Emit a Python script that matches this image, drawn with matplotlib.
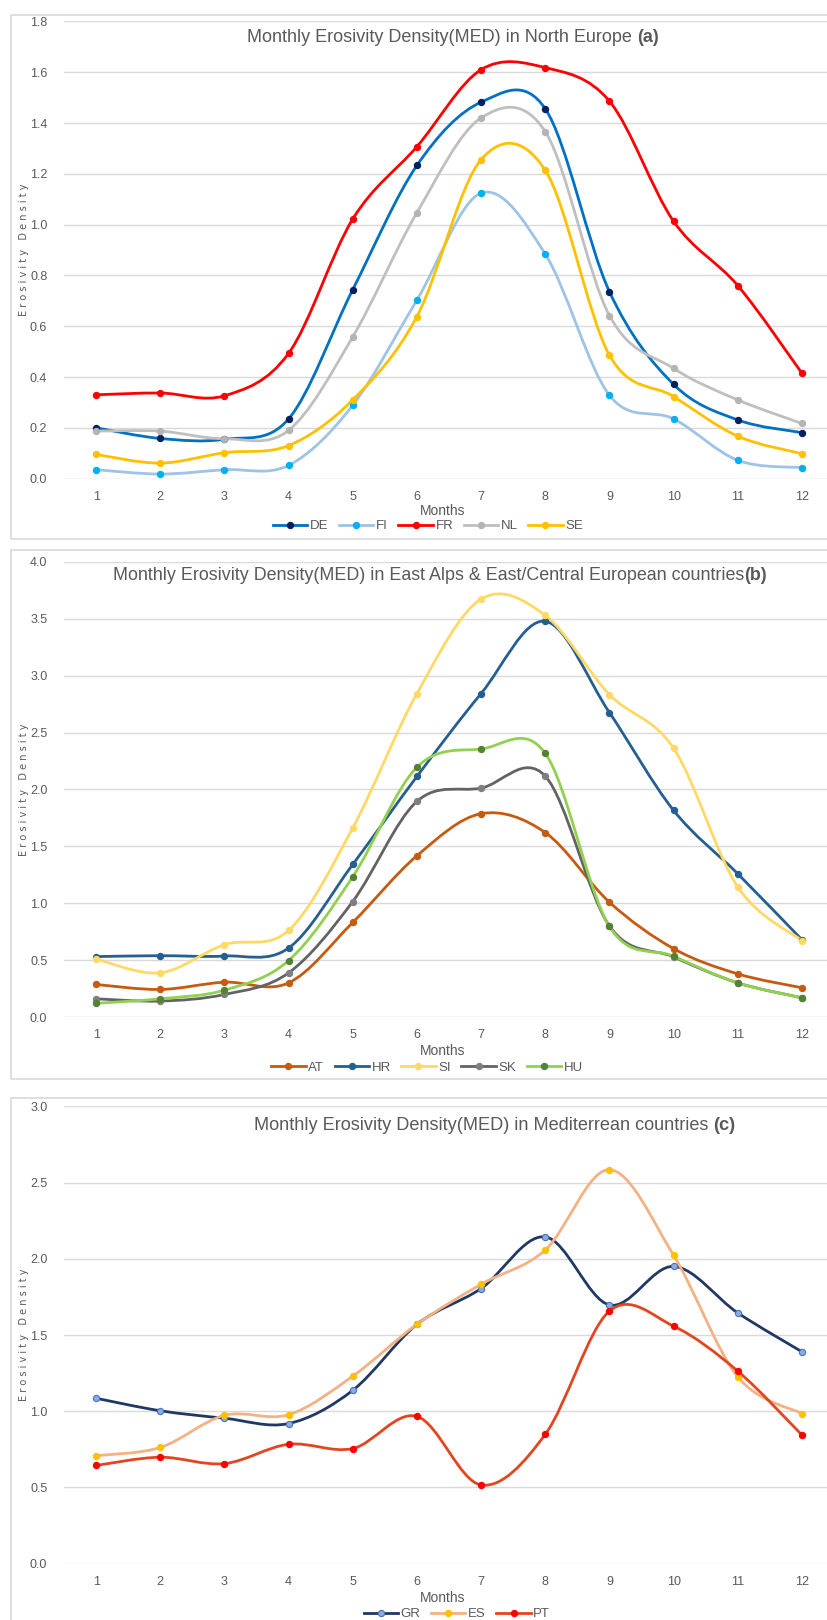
import numpy as np
import matplotlib
matplotlib.use("Agg")
import matplotlib.pyplot as plt
from matplotlib.path import Path
from matplotlib.patches import PathPatch, Rectangle
from matplotlib.lines import Line2D

plt.rcParams['font.family'] = ['Liberation Sans', 'DejaVu Sans']

W, H = 827, 1620
months = list(range(1, 13))

# panel (a) North Europe
names_a = ["DE", "FI", "FR", "NL", "SE"]
DE = [0.200, 0.158, 0.155, 0.235, 0.744, 1.233, 1.482, 1.456, 0.736, 0.371, 0.231, 0.181]
FI = [0.035, 0.018, 0.035, 0.052, 0.289, 0.703, 1.124, 0.884, 0.328, 0.235, 0.072, 0.043]
FR = [0.330, 0.337, 0.326, 0.493, 1.022, 1.307, 1.610, 1.618, 1.486, 1.013, 0.760, 0.415]
NL = [0.187, 0.187, 0.157, 0.190, 0.558, 1.047, 1.420, 1.366, 0.642, 0.434, 0.310, 0.217]
SE = [0.095, 0.061, 0.102, 0.130, 0.310, 0.638, 1.256, 1.214, 0.486, 0.323, 0.167, 0.098]

# panel (b) East Alps & East/Central Europe
names_b = ["AT", "HR", "SI", "SK", "HU"]
AT = [0.286, 0.242, 0.306, 0.300, 0.831, 1.417, 1.787, 1.621, 1.009, 0.601, 0.379, 0.257]
HR = [0.531, 0.539, 0.536, 0.606, 1.341, 2.114, 2.843, 3.478, 2.676, 1.816, 1.259, 0.679]
SI = [0.510, 0.388, 0.636, 0.761, 1.662, 2.843, 3.673, 3.530, 2.834, 2.362, 1.143, 0.671]
SK = [0.160, 0.140, 0.198, 0.388, 1.015, 1.895, 2.012, 2.117, 0.800, 0.528, 0.300, 0.169]
HU = [0.120, 0.160, 0.236, 0.496, 1.233, 2.195, 2.355, 2.318, 0.796, 0.534, 0.300, 0.169]

# panel (c) Mediterranean
names_c = ["GR", "ES", "PT"]
GR = [1.085, 1.003, 0.954, 0.919, 1.137, 1.570, 1.805, 2.144, 1.697, 1.950, 1.645, 1.390]
ES = [0.708, 0.762, 0.973, 0.977, 1.230, 1.570, 1.833, 2.058, 2.585, 2.023, 1.226, 0.984]
PT = [0.644, 0.698, 0.656, 0.783, 0.755, 0.966, 0.516, 0.848, 1.657, 1.558, 1.263, 0.844]

grey_txt = "#595959"
grid_c = "#D9D9D9"


def smooth(ax, x, y, color, lw):
    # excel-like smoothed line (catmull-rom as bezier segments)
    P = np.column_stack([x, y]).astype(float)
    n = len(P)
    verts = [P[0]]
    codes = [Path.MOVETO]
    for i in range(n - 1):
        a = P[i - 1] if i > 0 else P[i]
        d = P[i + 2] if i + 2 < n else P[i + 1]
        verts += [P[i] + (P[i + 1] - a) / 6, P[i + 1] - (d - P[i]) / 6, P[i + 1]]
        codes += [Path.CURVE4] * 3
    ax.add_patch(PathPatch(Path(verts, codes), fill=False, edgecolor=color,
                           lw=lw, capstyle='round', joinstyle='round'))


def fx(x):
    return x / W


def fy(y):
    return 1 - y / H


fig = plt.figure(figsize=(W / 100, H / 100), dpi=100)

# chart frames
for top, bot in [(15, 538.5), (550, 1079), (1097.5, 1640)]:
    fig.patches.append(Rectangle((fx(10.5), fy(bot)), fx(830), (bot - top) / H,
                                 transform=fig.transFigure, fill=False,
                                 edgecolor=grid_c, lw=1.2))

panels = [
    dict(top=21.4, bot=478.6, ymax=1.8, step=0.2, fmt="%.1f",
         series=[DE, FI, FR, NL, SE], names=names_a,
         lines=["#0070C0", "#9DC3E6", "#FF0000", "#BFBFBF", "#FFC000"],
         marks=["#002060", "#00B0F0", "#FF0000", "#B4B4B4", "#FFC000"],
         medge=["#002060", "#00B0F0", "#FF0000", "#B4B4B4", "#FFC000"],
         title="Monthly Erosivity Density(MED) in North Europe ", bold="(a)",
         tx=247, tw=411, ty=37, mty=511, legy=526, legx=428),
    dict(top=561.9, bot=1017, ymax=4.0, step=0.5, fmt="%.1f",
         series=[AT, HR, SI, SK, HU], names=names_b,
         lines=["#C55A11", "#255E91", "#FFD966", "#636363", "#92D050"],
         marks=["#C55A11", "#255E91", "#FFD966", "#7F7F7F", "#548235"],
         medge=["#C55A11", "#255E91", "#FFD966", "#7F7F7F", "#548235"],
         title="Monthly Erosivity Density(MED) in East Alps & East/Central European countries", bold="(b)",
         tx=113, tw=652, ty=576, mty=1051, legy=1068, legx=427),
    dict(top=1106.4, bot=1563.6, ymax=3.0, step=0.5, fmt="%.1f",
         series=[GR, ES, PT], names=names_c,
         lines=["#1F3864", "#F4B183", "#E2451F"],
         marks=["#8EA9DB", "#FFC000", "#FF0000"],
         medge=["#4472C4", "#FFC000", "#FF0000"],
         title="Monthly Erosivity Density(MED) in Mediterrean countries ", bold="(c)",
         tx=254, tw=482, ty=1125, mty=1598, legy=1614, legx=457),
]

renderer = fig.canvas.get_renderer()

for p in panels:
    ax = fig.add_axes([fx(64), fy(p["bot"]), fx(834 - 64), (p["bot"] - p["top"]) / H])
    ax.set_xlim(0.5, 12.5)
    ax.set_ylim(0, p["ymax"])
    ticks = np.arange(0, p["ymax"] + 1e-9, p["step"])
    ax.set_yticks(ticks)
    ax.set_yticklabels([p["fmt"] % t for t in ticks])
    ax.set_xticks(months)
    ax.tick_params(length=0, labelsize=9, labelcolor=grey_txt)
    ax.tick_params(axis='y', pad=12)
    ax.tick_params(axis='x', pad=9)
    for s in ax.spines.values():
        s.set_visible(False)
    ax.grid(axis='y', color=grid_c, lw=1)
    ax.set_axisbelow(True)
    ax.patch.set_alpha(0)

    handles = []
    for vals, lc, mc, me, nm in zip(p["series"], p["lines"], p["marks"], p["medge"], p["names"]):
        smooth(ax, months, vals, lc, 2.0)
        ax.plot(months, vals, 'o', ms=4.5, mfc=mc, mec=me, mew=0.8, zorder=3)
        handles.append(Line2D([], [], color=lc, lw=2.0, marker='o', ms=4.5,
                              mfc=mc, mec=me, mew=0.8))

    fig.text(fx(24), fy((p["top"] + p["bot"]) / 2), "E r o s i v i t y   D e n s i t y",
             rotation=90, ha='center', va='center', fontsize=7, color=grey_txt,
             family='DejaVu Sans')

    # title: normal part + bold tag, sized to the reference width
    fs = 13
    t = fig.text(fx(p["tx"]), fy(p["ty"]), p["title"], ha='left', va='center',
                 fontsize=fs, color=grey_txt)
    tb = fig.text(0, fy(p["ty"]), p["bold"], ha='left', va='center',
                  fontsize=fs, color=grey_txt, fontweight='bold')
    w = t.get_window_extent(renderer).width + tb.get_window_extent(renderer).width
    fs = fs * p["tw"] / w
    t.set_fontsize(fs)
    tb.set_fontsize(fs)
    tb.set_x(t.get_window_extent(renderer).x1 / W)

    fig.text(fx(443), fy(p["mty"]), "Months", ha='center', va='center',
             fontsize=10, color=grey_txt)
    fig.legend(handles=handles, labels=p["names"], loc='center',
               bbox_to_anchor=(fx(p["legx"]), fy(p["legy"])), ncol=len(handles),
               frameon=False, fontsize=9.5, labelcolor=grey_txt, handlelength=2.6,
               handletextpad=0.2, columnspacing=0.8, borderpad=0, borderaxespad=0)

fig.savefig("out.png", dpi=100)
